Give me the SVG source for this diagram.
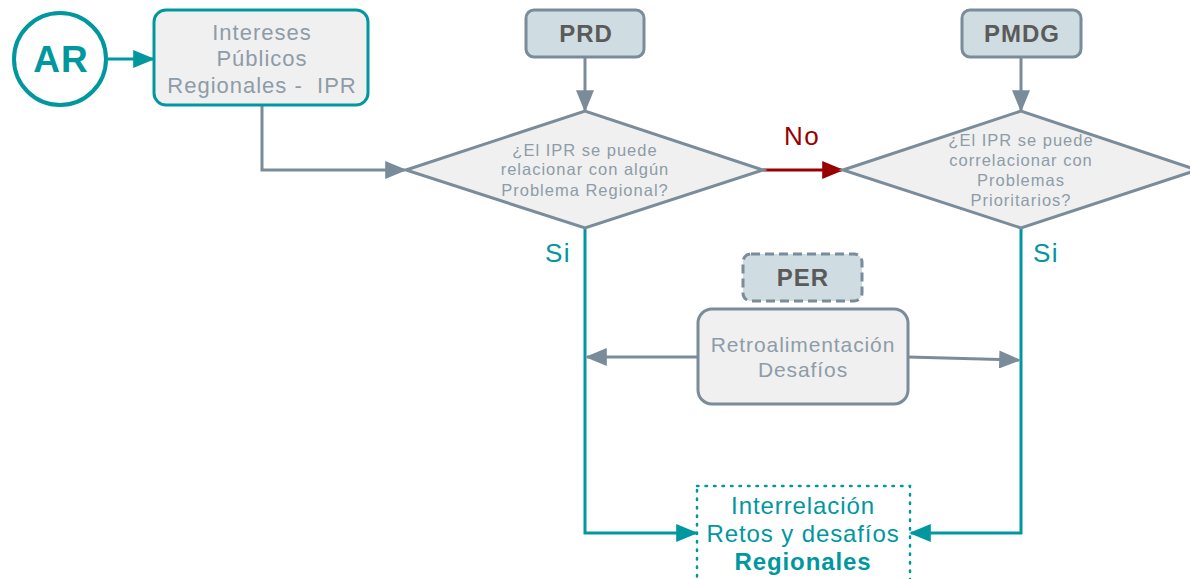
<svg xmlns="http://www.w3.org/2000/svg" width="1190" height="579" viewBox="0 0 1190 579">
<style>
.t{font-family:"Liberation Sans","Noto Sans",sans-serif;text-anchor:middle}
.g{fill:#8d9ca8}
.teal{fill:#00979f}
.dk{fill:#5a5a5a;font-weight:bold;letter-spacing:1px}
.box{fill:#f0f0f0;stroke:#7a8c9a;stroke-width:3}
.hdr{fill:#cfdde2;stroke:#7a8c9a;stroke-width:3}
.cg{fill:none;stroke:#7a8c9a;stroke-width:3}
.ct{fill:none;stroke:#00979f;stroke-width:3}
</style>
<defs>
<marker id="at" viewBox="0 0 10 10" refX="9" refY="5" markerWidth="22" markerHeight="18" orient="auto" markerUnits="userSpaceOnUse" preserveAspectRatio="none"><path d="M0,0 L10,5 L0,10z" fill="#00979f"/></marker>
<marker id="agb" viewBox="0 0 10 10" refX="9" refY="5" markerWidth="22" markerHeight="18" orient="auto" markerUnits="userSpaceOnUse" preserveAspectRatio="none"><path d="M0,0 L10,5 L0,10z" fill="#7a8c9a"/></marker>
<marker id="ar" viewBox="0 0 10 10" refX="9" refY="5" markerWidth="22" markerHeight="18" orient="auto" markerUnits="userSpaceOnUse" preserveAspectRatio="none"><path d="M0,0 L10,5 L0,10z" fill="#990000"/></marker>
</defs>
<g id="connectors">
<path class="ct" d="M108,59 H153" marker-end="url(#at)"/>
<path class="cg" d="M262,105 V170 H405" marker-end="url(#agb)"/>
<path class="cg" d="M585,57 V110" marker-end="url(#agb)"/>
<path class="cg" d="M1021,57 V110" marker-end="url(#agb)"/>
<path fill="none" stroke="#990000" stroke-width="3" d="M763,170 H842" marker-end="url(#ar)"/>
<path class="ct" d="M585,228 V533 H696" marker-end="url(#at)"/>
<path class="ct" d="M1021,228 V533 H911" marker-end="url(#at)"/>
<path class="cg" d="M698,357 H587" marker-end="url(#agb)"/>
<path class="cg" d="M908,357 L1019,360" marker-end="url(#agb)"/>
</g>
<g id="ar-node">
<circle cx="60" cy="59" r="46" fill="#fff" stroke="#00979f" stroke-width="4"/>
<text class="t teal" x="61" y="72" font-size="37" font-weight="bold" letter-spacing="1">AR</text>
</g>
<g id="ipr">
<rect x="154" y="10" width="214" height="95" rx="12" fill="#f0f0f0" stroke="#00979f" stroke-width="3"/>
<text class="t g" font-size="22" letter-spacing="1"><tspan x="262" y="40">Intereses</tspan><tspan x="262" y="66">Públicos</tspan><tspan x="262" y="93">Regionales -&#160; IPR</tspan></text>
</g>
<g id="prd">
<rect class="hdr" x="526" y="10" width="118" height="47" rx="8"/>
<text class="t dk" x="586" y="42" font-size="24">PRD</text>
</g>
<g id="pmdg">
<rect class="hdr" x="962" y="10" width="119" height="47" rx="8"/>
<text class="t dk" x="1022" y="42" font-size="24">PMDG</text>
</g>
<g id="d1">
<path class="box" d="M406,170 L585,111 L763,170 L585,228Z"/>
<text class="t g" font-size="16.5" letter-spacing="1"><tspan x="585" y="156">¿El IPR se puede</tspan><tspan x="585" y="175">relacionar con algún</tspan><tspan x="585" y="196">Problema Regional?</tspan></text>
</g>
<g id="d2">
<path class="box" d="M843,170 L1021,111 L1197,170 L1021,228Z"/>
<text class="t g" font-size="16.5" letter-spacing="1"><tspan x="1021" y="146">¿El IPR se puede</tspan><tspan x="1021" y="166">correlacionar con</tspan><tspan x="1021" y="186">Problemas</tspan><tspan x="1021" y="206">Prioritarios?</tspan></text>
</g>
<g id="labels">
<text class="t" x="802" y="145" font-size="26" letter-spacing="1.5" fill="#990000">No</text>
<text class="t teal" x="558" y="262" font-size="26" letter-spacing="1.5">Si</text>
<text class="t teal" x="1046" y="262" font-size="26" letter-spacing="1.5">Si</text>
</g>
<g id="per">
<rect x="743" y="254" width="119" height="47" rx="8" fill="#cfdde2" stroke="#7a8c9a" stroke-width="3" stroke-dasharray="9,5"/>
<text class="t dk" x="803" y="286" font-size="24">PER</text>
</g>
<g id="retro">
<rect class="box" x="698" y="309" width="210" height="95" rx="14"/>
<text class="t g" font-size="21" letter-spacing="0.9"><tspan x="803" y="352">Retroalimentación</tspan><tspan x="803" y="377">Desafíos</tspan></text>
</g>
<g id="interrel">
<rect x="697" y="486" width="213" height="100" fill="none" stroke="#00979f" stroke-width="2.5" stroke-dasharray="1.5,7" stroke-linecap="round"/>
<text class="t teal" font-size="24" letter-spacing="0.9"><tspan x="803" y="514">Interrelación</tspan><tspan x="803" y="542">Retos y desafíos</tspan><tspan x="803" y="570" font-weight="bold">Regionales</tspan></text>
</g>
</svg>
